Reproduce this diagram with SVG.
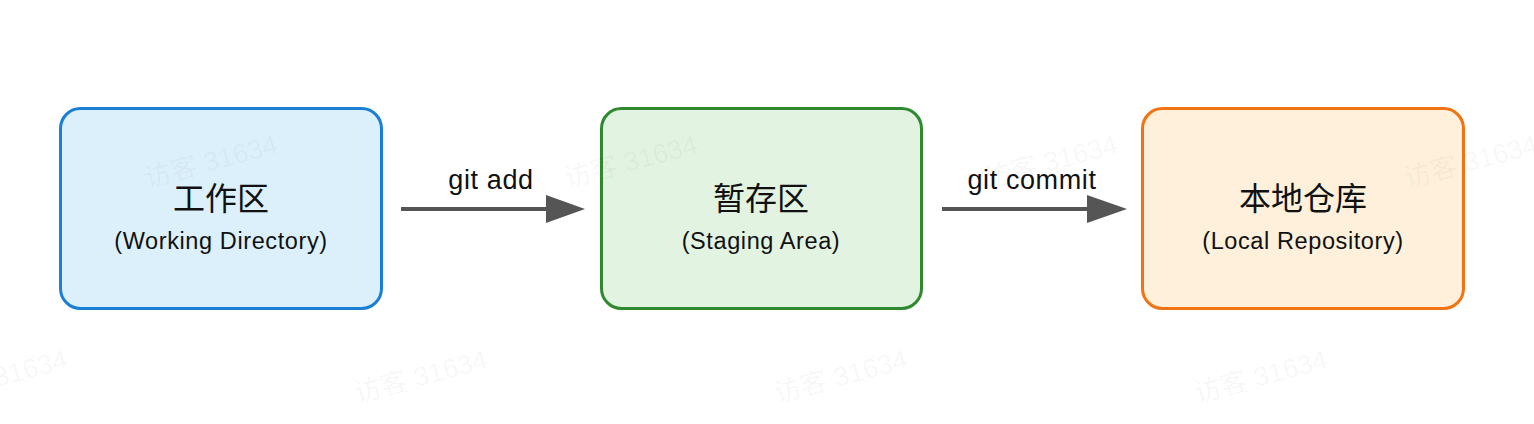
<svg xmlns="http://www.w3.org/2000/svg" width="1534" height="424" viewBox="0 0 1534 424">
<style>
.box{stroke-width:3}
.title{font-family:"Noto Sans CJK SC","Liberation Sans",sans-serif;font-size:32px;fill:#111;text-anchor:middle}
.sub{font-family:"Liberation Sans","Noto Sans CJK SC",sans-serif;font-size:23.5px;letter-spacing:0.6px;fill:#111;text-anchor:middle}
.lbl{font-family:"Liberation Sans",sans-serif;font-size:27px;letter-spacing:0.6px;fill:#111;text-anchor:middle}
.edge{stroke:#555;stroke-width:4;fill:none}
.wm{font-family:"Liberation Sans","Noto Sans CJK SC",sans-serif;font-size:27px;fill:#000;fill-opacity:0.045}
</style>
<rect width="1534" height="424" fill="#fff"/>
<g id="node-working">
<rect class="box" x="60.5" y="108.5" width="321" height="200" rx="20" fill="#dcf0fb" stroke="#1b7fd6"/>
<text class="title" x="221" y="210">工作区</text>
<text class="sub" x="221" y="249">(Working Directory)</text>
</g>
<g id="node-staging">
<rect class="box" x="601.5" y="108.5" width="320" height="200" rx="20" fill="#e2f3e2" stroke="#2f8a2f"/>
<text class="title" x="761" y="210">暂存区</text>
<text class="sub" x="761" y="249">(Staging Area)</text>
</g>
<g id="node-local">
<rect class="box" x="1142.5" y="108.5" width="321" height="200" rx="20" fill="#fef0db" stroke="#f27312"/>
<text class="title" x="1303" y="210">本地仓库</text>
<text class="sub" x="1303" y="249">(Local Repository)</text>
</g>
<g id="connectors">
<line class="edge" x1="401" y1="209" x2="548" y2="209"/>
<polygon points="546,195 585,209 546,223" fill="#555"/>
<text class="lbl" x="491" y="189">git add</text>
<line class="edge" x1="942" y1="209" x2="1089" y2="209"/>
<polygon points="1087,195 1127,209 1087,223" fill="#555"/>
<text class="lbl" x="1032" y="189">git commit</text>
</g>
<g id="watermarks">
<text class="wm" transform="translate(147,188) rotate(-15)">访客 31634</text>
<text class="wm" transform="translate(567,188) rotate(-15)">访客 31634</text>
<text class="wm" transform="translate(987,188) rotate(-15)">访客 31634</text>
<text class="wm" transform="translate(1407,188) rotate(-15)">访客 31634</text>
<text class="wm" transform="translate(-63,403) rotate(-15)">访客 31634</text>
<text class="wm" transform="translate(357,403) rotate(-15)">访客 31634</text>
<text class="wm" transform="translate(777,403) rotate(-15)">访客 31634</text>
<text class="wm" transform="translate(1197,403) rotate(-15)">访客 31634</text>
</g>
</svg>
